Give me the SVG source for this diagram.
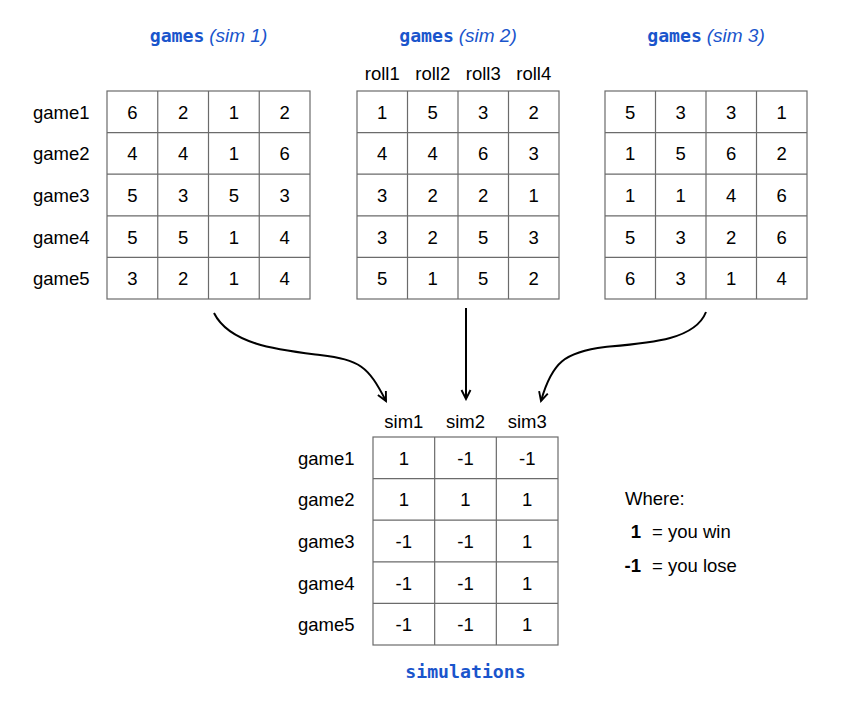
<svg xmlns="http://www.w3.org/2000/svg" width="858" height="704" viewBox="0 0 858 704">
<defs>
<style>
.grid{fill:none;stroke:#6b6b6b;stroke-width:1.2}
.t{font-family:"Liberation Sans",Arial,sans-serif;font-size:18.5px;fill:#000}
.c{text-anchor:middle}
.b{font-weight:bold}
.title{font-size:19px;fill:#1a55cc;text-anchor:middle}
.mono{font-family:"DejaVu Sans Mono","Liberation Mono",monospace;font-weight:bold;font-size:18.2px}
.ital{font-family:"Liberation Sans",Arial,sans-serif;font-style:italic}
.conn{fill:none;stroke:#000;stroke-width:2}
</style>
<marker id="arr" viewBox="0 0 12 12" refX="10" refY="6" markerWidth="12" markerHeight="12" markerUnits="userSpaceOnUse" orient="auto">
<path d="M1,1.5 L10,6 L1,10.5" fill="none" stroke="#000" stroke-width="1.9"/>
</marker>
</defs>
<rect width="858" height="704" fill="#fff"/>

<g id="sim1-table">
<text class="title" x="208.5" y="42"><tspan class="mono">games</tspan> <tspan class="ital">(sim 1)</tspan></text>
<rect class="grid" x="107" y="91" width="203" height="208"/>
<path class="grid" d="M157.75,91V299M208.5,91V299M259.25,91V299M107,132.6H310M107,174.2H310M107,215.8H310M107,257.4H310"/>
<g class="t">
<text x="33" y="118.8">game1</text><text x="33" y="160.4">game2</text><text x="33" y="202">game3</text><text x="33" y="243.6">game4</text><text x="33" y="285.2">game5</text>
</g>
<g class="t c">
<text x="132.4" y="118.8">6</text><text x="183.1" y="118.8">2</text><text x="233.9" y="118.8">1</text><text x="284.6" y="118.8">2</text>
<text x="132.4" y="160.4">4</text><text x="183.1" y="160.4">4</text><text x="233.9" y="160.4">1</text><text x="284.6" y="160.4">6</text>
<text x="132.4" y="202">5</text><text x="183.1" y="202">3</text><text x="233.9" y="202">5</text><text x="284.6" y="202">3</text>
<text x="132.4" y="243.6">5</text><text x="183.1" y="243.6">5</text><text x="233.9" y="243.6">1</text><text x="284.6" y="243.6">4</text>
<text x="132.4" y="285.2">3</text><text x="183.1" y="285.2">2</text><text x="233.9" y="285.2">1</text><text x="284.6" y="285.2">4</text>
</g>
</g>

<g id="sim2-table">
<text class="title" x="458" y="42"><tspan class="mono">games</tspan> <tspan class="ital">(sim 2)</tspan></text>
<g class="t c">
<text x="382.25" y="80">roll1</text><text x="432.75" y="80">roll2</text><text x="483.25" y="80">roll3</text><text x="533.75" y="80">roll4</text>
</g>
<rect class="grid" x="357" y="91" width="202" height="208"/>
<path class="grid" d="M407.5,91V299M458,91V299M508.5,91V299M357,132.6H559M357,174.2H559M357,215.8H559M357,257.4H559"/>
<g class="t c">
<text x="382.25" y="118.8">1</text><text x="432.75" y="118.8">5</text><text x="483.25" y="118.8">3</text><text x="533.75" y="118.8">2</text>
<text x="382.25" y="160.4">4</text><text x="432.75" y="160.4">4</text><text x="483.25" y="160.4">6</text><text x="533.75" y="160.4">3</text>
<text x="382.25" y="202">3</text><text x="432.75" y="202">2</text><text x="483.25" y="202">2</text><text x="533.75" y="202">1</text>
<text x="382.25" y="243.6">3</text><text x="432.75" y="243.6">2</text><text x="483.25" y="243.6">5</text><text x="533.75" y="243.6">3</text>
<text x="382.25" y="285.2">5</text><text x="432.75" y="285.2">1</text><text x="483.25" y="285.2">5</text><text x="533.75" y="285.2">2</text>
</g>
</g>

<g id="sim3-table">
<text class="title" x="706" y="42"><tspan class="mono">games</tspan> <tspan class="ital">(sim 3)</tspan></text>
<rect class="grid" x="605" y="91" width="202" height="208"/>
<path class="grid" d="M655.5,91V299M706,91V299M756.5,91V299M605,132.6H807M605,174.2H807M605,215.8H807M605,257.4H807"/>
<g class="t c">
<text x="630.25" y="118.8">5</text><text x="680.75" y="118.8">3</text><text x="731.25" y="118.8">3</text><text x="781.75" y="118.8">1</text>
<text x="630.25" y="160.4">1</text><text x="680.75" y="160.4">5</text><text x="731.25" y="160.4">6</text><text x="781.75" y="160.4">2</text>
<text x="630.25" y="202">1</text><text x="680.75" y="202">1</text><text x="731.25" y="202">4</text><text x="781.75" y="202">6</text>
<text x="630.25" y="243.6">5</text><text x="680.75" y="243.6">3</text><text x="731.25" y="243.6">2</text><text x="781.75" y="243.6">6</text>
<text x="630.25" y="285.2">6</text><text x="680.75" y="285.2">3</text><text x="731.25" y="285.2">1</text><text x="781.75" y="285.2">4</text>
</g>
</g>

<g id="connectors">
<path class="conn" marker-end="url(#arr)" d="M214,313 C230,345 280,350 320,355 C360,360 368,366 386,401"/>
<path class="conn" marker-end="url(#arr)" d="M466,308 L466,399"/>
<path class="conn" marker-end="url(#arr)" d="M706,312 C695,340 650,343 605,347 C565,352 552,362 541,401"/>
</g>

<g id="simulations-table">
<g class="t c">
<text x="403.8" y="428">sim1</text><text x="465.5" y="428">sim2</text><text x="527.2" y="428">sim3</text>
</g>
<rect class="grid" x="373" y="437" width="185" height="208"/>
<path class="grid" d="M434.67,437V645M496.33,437V645M373,478.6H558M373,520.2H558M373,561.8H558M373,603.4H558"/>
<g class="t">
<text x="298" y="464.8">game1</text><text x="298" y="506.4">game2</text><text x="298" y="548">game3</text><text x="298" y="589.6">game4</text><text x="298" y="631.2">game5</text>
</g>
<g class="t c">
<text x="403.8" y="464.8">1</text><text x="465.5" y="464.8">-1</text><text x="527.2" y="464.8">-1</text>
<text x="403.8" y="506.4">1</text><text x="465.5" y="506.4">1</text><text x="527.2" y="506.4">1</text>
<text x="403.8" y="548">-1</text><text x="465.5" y="548">-1</text><text x="527.2" y="548">1</text>
<text x="403.8" y="589.6">-1</text><text x="465.5" y="589.6">-1</text><text x="527.2" y="589.6">1</text>
<text x="403.8" y="631.2">-1</text><text x="465.5" y="631.2">-1</text><text x="527.2" y="631.2">1</text>
</g>
<text class="title mono" x="465.5" y="678">simulations</text>
</g>

<g id="legend" class="t">
<text x="625" y="505">Where:</text>
<text class="b" x="641" y="538" text-anchor="end">1</text>
<text x="652" y="538">= you win</text>
<text class="b" x="641" y="572" text-anchor="end">-1</text>
<text x="652" y="572">= you lose</text>
</g>
</svg>
